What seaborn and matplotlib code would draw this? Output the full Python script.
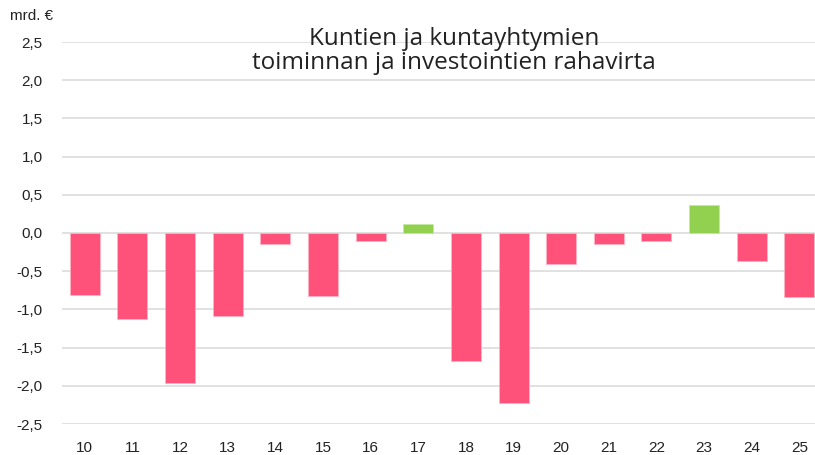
import pandas as pd
import matplotlib.pyplot as plt
import seaborn as sns

years = ["10", "11", "12", "13", "14", "15", "16", "17",
         "18", "19", "20", "21", "22", "23", "24", "25"]
values = [-0.81, -1.13, -1.96, -1.08, -0.14, -0.83, -0.10, 0.12,
          -1.68, -2.22, -0.41, -0.14, -0.10, 0.36, -0.36, -0.84]
y_ticks = [-2.5, -2.0, -1.5, -1.0, -0.5, 0.0, 0.5, 1.0, 1.5, 2.0, 2.5]

df = pd.DataFrame({"year": years, "value": values})
df["sign"] = ["pos" if v > 0 else "neg" for v in df["value"]]

sns.set_style("white")
plt.rcParams["font.family"] = ["Liberation Sans", "DejaVu Sans"]

fig = plt.figure(figsize=(8.15, 4.55), dpi=100)
ax = fig.add_axes([62 / 815, 31 / 455, 1 - 62 / 815, 382 / 455])

sns.barplot(data=df, x="year", y="value", hue="sign",
            palette={"neg": "#FF527B", "pos": "#92D050"},
            dodge=False, legend=False, width=0.63, saturation=1,
            linewidth=0.6, ax=ax, zorder=3)
for p in ax.patches:
    p.set_edgecolor("#C4EAA0" if p.get_height() > 0 else "#FFB3C4")

ax.set_ylim(-2.5, 2.5)
ax.set_xlim(-0.48, 15.33)
ax.set_yticks(y_ticks)
ax.set_yticklabels([f"{t:.1f}".replace(".", ",") for t in y_ticks])
ax.yaxis.grid(True, color="#DCDCDC", linewidth=1.2, zorder=0)
ax.set_axisbelow(True)
for sp in ax.spines.values():
    sp.set_visible(False)
ax.tick_params(axis="both", length=0, labelsize=11, colors="#222222")
ax.tick_params(axis="y", pad=14)
ax.tick_params(axis="x", pad=12)
ax.set_xlabel("")
ax.set_ylabel("")

fig.text(10 / 815, 1 - 16 / 455, "mrd. €", fontsize=11, color="#222222",
         va="center", ha="left")
fig.text(454 / 815, 1 - 51 / 455,
         "Kuntien ja kuntayhtymien\ntoiminnan ja investointien rahavirta",
         fontsize=17.5, color="#222222", ha="center", va="center",
         family=["Open Sans", "DejaVu Sans"], linespacing=1.05)

plt.savefig("out.png", dpi=100)
plt.close()
